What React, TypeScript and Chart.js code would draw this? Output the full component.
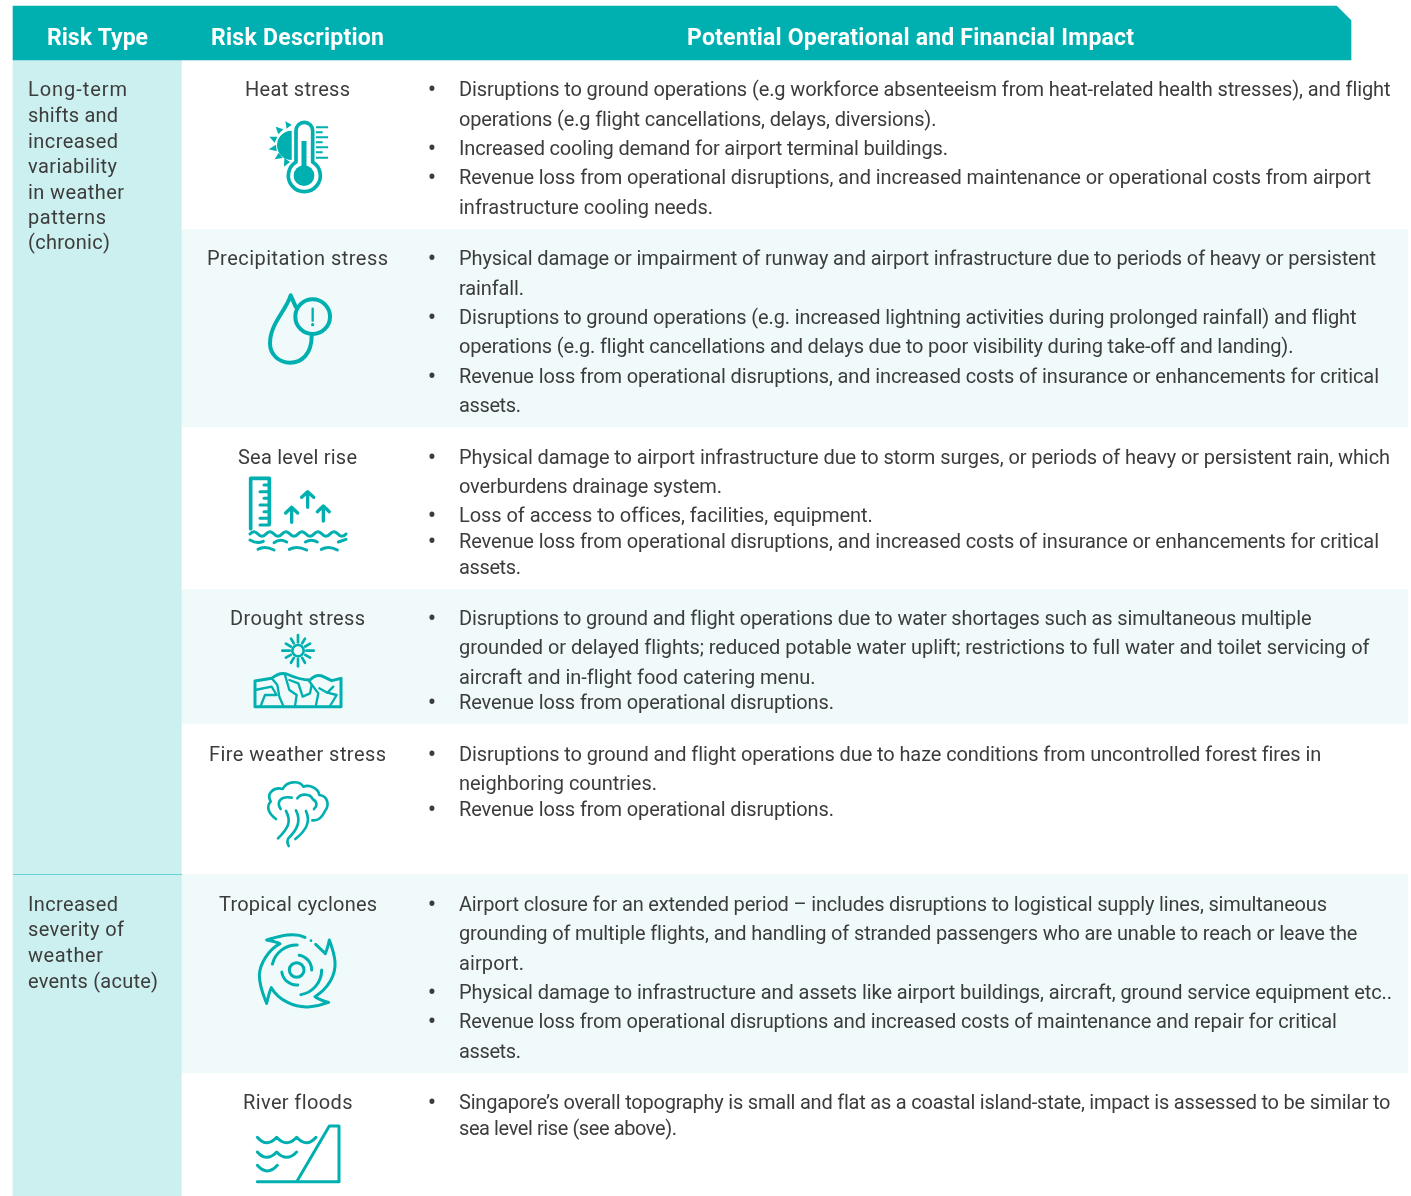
import React, { useEffect, useRef } from "react";
import { Chart, registerables } from "chart.js";

Chart.register(...registerables);

const W = 1411;
const H = 1196;

// ---- content
const headers = ["Risk Type", "Risk Description", "Potential Operational and Financial Impact"];
const riskTypeLines = [
  "Long-term", "shifts and", "increased", "variability", "in weather", "patterns", "(chronic)",
  "Increased", "severity of", "weather", "events (acute)",
];
const riskNames = [
  "Heat stress", "Precipitation stress", "Sea level rise", "Drought stress",
  "Fire weather stress", "Tropical cyclones", "River floods",
];
const impactLines = [
  "Disruptions to ground operations (e.g workforce absenteeism from heat-related health stresses), and flight",
  "operations (e.g flight cancellations, delays, diversions).",
  "Increased cooling demand for airport terminal buildings.",
  "Revenue loss from operational disruptions, and increased maintenance or operational costs from airport",
  "infrastructure cooling needs.",
  "Physical damage or impairment of runway and airport infrastructure due to periods of heavy or persistent",
  "rainfall.",
  "Disruptions to ground operations (e.g. increased lightning activities during prolonged rainfall) and flight",
  "operations (e.g. flight cancellations and delays due to poor visibility during take-off and landing).",
  "Revenue loss from operational disruptions, and increased costs of insurance or enhancements for critical",
  "assets.",
  "Physical damage to airport infrastructure due to storm surges, or periods of heavy or persistent rain, which",
  "overburdens drainage system.",
  "Loss of access to offices, facilities, equipment.",
  "Revenue loss from operational disruptions, and increased costs of insurance or enhancements for critical",
  "assets.",
  "Disruptions to ground and flight operations due to water shortages such as simultaneous multiple",
  "grounded or delayed flights; reduced potable water uplift; restrictions to full water and toilet servicing of",
  "aircraft and in-flight food catering menu.",
  "Revenue loss from operational disruptions.",
  "Disruptions to ground and flight operations due to haze conditions from uncontrolled forest fires in",
  "neighboring countries.",
  "Revenue loss from operational disruptions.",
  "Airport closure for an extended period – includes disruptions to logistical supply lines, simultaneous",
  "grounding of multiple flights, and handling of stranded passengers who are unable to reach or leave the",
  "airport.",
  "Physical damage to infrastructure and assets like airport buildings, aircraft, ground service equipment etc..",
  "Revenue loss from operational disruptions and increased costs of maintenance and repair for critical",
  "assets.",
  "Singapore’s overall topography is small and flat as a coastal island-state, impact is assessed to be similar to",
  "sea level rise (see above).",
];
const impactHasBullet = [
  1, 0, 1, 1, 0, 1, 0, 1, 0, 1, 0, 1, 0, 1, 1, 0, 1, 0, 0, 1, 1, 0, 1, 1, 0, 0, 1, 1, 0, 1, 0,
];

// ---- layout
const rowEdges = [60, 229, 427, 589, 724, 874, 1073, 1196];
const typeEdges = [60, 874, 1196];
const headerLeft = [47, 211, 687];
const headerRight = [148, 384, 1134];
const typeMid = [88, 114, 140, 165, 191, 216, 241, 903, 928, 954, 980];
const typeRight = [127, 118, 118, 117, 124, 106, 110, 118, 124, 103, 158];
const nameMid = [88, 257, 456, 617, 753, 903, 1101];
const nameLeft = [245, 207, 238, 230, 209, 219, 243];
const nameRight = [350, 388, 357, 365, 386, 377, 352];
const impactMid = [
  88, 118, 147, 176, 206, 257, 287, 316, 345, 375, 404, 456, 485, 514, 540, 566, 617, 646, 676, 701,
  753, 782, 808, 903, 932, 962, 991, 1020, 1050, 1101, 1127,
];
const impactRight = [
  1390, 936, 948, 1371, 713, 1376, 524, 1356, 1293, 1379, 521, 1390, 722, 871, 1379, 521, 1311, 1369,
  815, 834, 1320, 657, 834, 1327, 1357, 524, 1392, 1337, 521, 1390, 677,
];

const TEAL = "#00AFB0";
const TYPE_BG = "#CCF0EF";
const TINT = "#F0FAFB";
const INK = "#3C3C3C";
const BODY = '400 20px Roboto';

type C = CanvasRenderingContext2D;

function fitText(ctx: C, text: string, left: number, right: number, base: number) {
  ctx.letterSpacing = "0px";
  const w = ctx.measureText(text).width;
  const ls = (right - left - w) / Math.max(1, text.length - 1);
  ctx.letterSpacing = ls.toFixed(3) + "px";
  ctx.fillText(text, left, base);
  ctx.letterSpacing = "0px";
}

function stroke(ctx: C, d: string) {
  ctx.stroke(new Path2D(d));
}
function fill(ctx: C, d: string) {
  ctx.fill(new Path2D(d));
}

function icon(ctx: C, ox: number, oy: number, lw: number, fn: () => void) {
  ctx.save();
  ctx.translate(ox, oy);
  ctx.scale(1 / 3, 1 / 3);
  ctx.strokeStyle = TEAL;
  ctx.fillStyle = TEAL;
  ctx.lineWidth = lw;
  ctx.lineCap = "round";
  ctx.lineJoin = "round";
  fn();
  ctx.restore();
}

function heatIcon(ctx: C) {
  icon(ctx, 0, 0, 11, () => {
    stroke(ctx, "M888 486 L888 392 A25 25 0 0 1 938 392 L938 486 A48 48 0 1 1 888 486 Z");
    ctx.lineWidth = 15;
    ctx.lineCap = "butt";
    stroke(ctx, "M912 423 L912 500");
    ctx.beginPath();
    ctx.arc(912, 527, 31, 0, 7);
    ctx.fill();
    fill(ctx, "M875 392 L875 480 A44 44 0 0 1 875 392 Z");
    ctx.lineWidth = 6;
    stroke(ctx, "M948 382 H984 M948 397 H968 M948 412 H984 M948 427 H968 M948 442 H984 M948 457 H968 M948 473 H984");
    fill(ctx, "M856 364 L875 374 L860 386 Z M827 380 L850 388 L835 403 Z M808 410 L832 410 L824 428 Z M806 448 L828 434 L830 454 Z M824 478 L836 458 L848 474 Z M852 500 L853 474 L870 486 Z");
  });
}

function precipIcon(ctx: C) {
  icon(ctx, 230, 280, 12, () => {
    stroke(ctx, "M197 80 L182 46 C170 90 120 130 120 190 C120 225 148 248 180 248 C215 248 245 222 245 168");
    ctx.beginPath();
    ctx.arc(248, 110, 52, 0, 7);
    ctx.stroke();
    ctx.lineWidth = 7;
    stroke(ctx, "M248 86 L248 122");
    ctx.beginPath();
    ctx.arc(248, 134, 5, 0, 7);
    ctx.fill();
  });
}

function seaIcon(ctx: C) {
  icon(ctx, 230, 470, 11, () => {
    stroke(ctx, "M62 176 V25 H118 V160");
    ctx.lineWidth = 9;
    stroke(ctx, "M118 45 H102 M118 65 H90 M118 85 H102 M118 105 H90 M118 125 H102 M118 145 H90 M118 165 H90");
    ctx.lineWidth = 10;
    stroke(ctx, "M185 157 V115 M167 129 L185 112 L203 129");
    stroke(ctx, "M233 112 V68 M215 82 L233 65 L251 82");
    stroke(ctx, "M280 153 V110 M262 125 L280 108 L298 125");
    ctx.lineWidth = 9;
    stroke(ctx, "M60 192 Q72 178 84 192 T108 192 T132 192 T156 192 T180 192 T204 192 T228 192 T252 192 T276 192 T300 192 T324 192 T348 192");
    stroke(ctx, "M60 210 Q80 222 100 214 M132 218 Q150 205 170 216 M226 216 Q245 205 262 216 M325 216 L348 208");
    stroke(ctx, "M84 238 Q104 226 132 240 M178 238 Q200 226 230 240 M274 238 Q296 226 322 240");
  });
}

function droughtIcon(ctx: C) {
  icon(ctx, 240, 630, 8, () => {
    ctx.beginPath();
    ctx.arc(174, 62, 17, 0, 7);
    ctx.stroke();
    for (let k = 0; k < 12; k++) {
      const a = (k * Math.PI) / 6;
      const r1 = 25;
      const r2 = k % 3 === 0 ? 47 : 42;
      ctx.beginPath();
      ctx.moveTo(174 + r1 * Math.cos(a), 62 + r1 * Math.sin(a));
      ctx.lineTo(174 + r2 * Math.cos(a), 62 + r2 * Math.sin(a));
      ctx.stroke();
    }
    ctx.lineWidth = 9;
    stroke(ctx, "M45 230 V153 L95 145 Q120 125 140 132 Q180 150 210 150 Q230 130 250 140 L275 152 L303 145 V230 Z");
    ctx.lineWidth = 7;
    stroke(ctx, "M45 180 L95 170 L110 195 L75 195 L62 228");
    stroke(ctx, "M95 145 L112 165 L118 200 L130 228");
    stroke(ctx, "M135 135 L148 180 L170 195 L165 228");
    stroke(ctx, "M148 150 L175 160 L188 200 L210 190 L215 165");
    stroke(ctx, "M205 150 L235 190 L228 225");
    stroke(ctx, "M238 175 L262 188 L280 170");
    stroke(ctx, "M262 188 L290 195 L270 228");
  });
}

function fireIcon(ctx: C) {
  icon(ctx, 250, 775, 8, () => {
    stroke(ctx, "M78 132 C55 115 48 95 62 80 C48 55 72 35 98 42 C110 18 148 15 160 35 C180 28 205 40 208 60 C232 62 240 90 225 108 C215 130 200 138 187 136");
    stroke(ctx, "M92 102 C78 80 92 62 125 68 M142 70 C152 55 180 55 188 72 C205 82 200 95 192 102");
    stroke(ctx, "M108 108 C125 140 115 160 84 190");
    stroke(ctx, "M138 106 C155 140 140 165 115 190 C110 198 112 205 116 213");
    stroke(ctx, "M168 108 C182 140 170 165 136 192");
  });
}

function cycloneIcon(ctx: C) {
  icon(ctx, 250, 925, 9, () => {
    ctx.beginPath();
    ctx.arc(140, 135, 22, 0, 7);
    ctx.stroke();
    const arcs: number[][] = [
      [45, -1.4, 0.0], [45, 1.5, 3.0], [75, -2.9, -1.55], [75, 0.0, 1.4],
    ];
    arcs.forEach(([r, a, b]) => {
      ctx.beginPath();
      ctx.arc(140, 135, r, a, b);
      ctx.stroke();
    });
    stroke(ctx, "M165 37 C130 20 85 35 50 45 C65 48 80 50 90 56 C55 75 30 115 28 150 C28 185 40 210 50 235 C55 215 58 200 64 188 C85 225 135 250 180 245 C200 243 220 238 236 232 C220 228 205 222 195 215 C235 190 258 150 255 110 C253 85 245 65 238 45 C235 60 232 72 226 86 C215 75 205 65 197 58");
    ctx.beginPath();
    ctx.arc(183, 47, 4, 0, 7);
    ctx.fill();
  });
}

function riverIcon(ctx: C) {
  icon(ctx, 240, 1120, 9, () => {
    stroke(ctx, "M52 185 H297 V18 H268 L170 185");
    stroke(ctx, "M52 52 Q80 85 110 52 Q140 85 170 52 Q200 85 228 52");
    stroke(ctx, "M52 96 Q80 128 110 96 Q140 128 170 96");
    stroke(ctx, "M52 136 Q82 170 112 136");
  });
}

const tablePlugin = {
  id: "tableText",
  afterDatasetsDraw(chart: any) {
    const ctx: C = chart.ctx;
    ctx.save();
    // cut corner of the header
    ctx.fillStyle = "#ffffff";
    ctx.beginPath();
    ctx.moveTo(1336, 5);
    ctx.lineTo(1352, 5);
    ctx.lineTo(1352, 21);
    ctx.closePath();
    ctx.fill();
    // separator in the first column
    ctx.fillStyle = "#66D3D6";
    ctx.fillRect(13, 874, 169, 1);

    ctx.textBaseline = "alphabetic";
    ctx.textAlign = "left";
    ctx.fillStyle = "#ffffff";
    ctx.font = '700 23px Roboto';
    headers.forEach((t, i) => fitText(ctx, t, headerLeft[i], headerRight[i], 45));

    ctx.fillStyle = INK;
    ctx.font = BODY;
    riskTypeLines.forEach((t, i) => fitText(ctx, t, 28, typeRight[i], typeMid[i] + 8));
    riskNames.forEach((t, i) => fitText(ctx, t, nameLeft[i], nameRight[i], nameMid[i] + 8));
    impactLines.forEach((t, i) => {
      fitText(ctx, t, 459, impactRight[i], impactMid[i] + 8);
      if (impactHasBullet[i]) {
        ctx.textAlign = "center";
        ctx.font = '400 25px Roboto';
        ctx.fillText("•", 432, impactMid[i] + 10);
        ctx.font = BODY;
        ctx.textAlign = "left";
      }
    });
    ctx.restore();

    heatIcon(ctx);
    precipIcon(ctx);
    seaIcon(ctx);
    droughtIcon(ctx);
    fireIcon(ctx);
    cycloneIcon(ctx);
    riverIcon(ctx);
  },
};

function band(x0: number, x1: number, top: number, bottom: number, color: string) {
  return {
    data: [{ x: [x0, x1], y: (top + bottom) / 2 }],
    backgroundColor: color,
    barThickness: bottom - top,
    borderWidth: 0,
    borderSkipped: false,
    stack: "bands",
    clip: false,
  };
}

export default function App() {
  const ref = useRef<HTMLCanvasElement>(null);
  useEffect(() => {
    document.body.style.margin = "0";
    const datasets: any[] = [band(13, 1351, 6, 60, TEAL)];
    for (let i = 0; i < rowEdges.length - 1; i++) {
      datasets.push(band(182, 1408, rowEdges[i], rowEdges[i + 1], i % 2 === 0 ? "#ffffff" : TINT));
    }
    for (let i = 0; i < typeEdges.length - 1; i++) {
      datasets.push(band(13, 182, typeEdges[i], typeEdges[i + 1], TYPE_BG));
    }
    const chart = new Chart(ref.current as HTMLCanvasElement, {
      type: "bar",
      data: { datasets },
      options: {
        indexAxis: "y",
        animation: false,
        responsive: false,
        layout: { padding: 0 },
        plugins: { legend: { display: false }, tooltip: { enabled: false }, title: { display: false } },
        scales: {
          x: { type: "linear", min: 0, max: W, display: false, offset: false },
          y: { type: "linear", min: 0, max: H, reverse: true, display: false, offset: false },
        },
      },
      plugins: [tablePlugin],
    } as any);
    return () => chart.destroy();
  }, []);
  return (
    <div style={{ position: "absolute", left: 0, top: 0, width: W, height: H, overflow: "hidden", background: "#fff" }}>
      <canvas ref={ref} width={W} height={H} style={{ display: "block", width: W, height: H }} />
    </div>
  );
}
